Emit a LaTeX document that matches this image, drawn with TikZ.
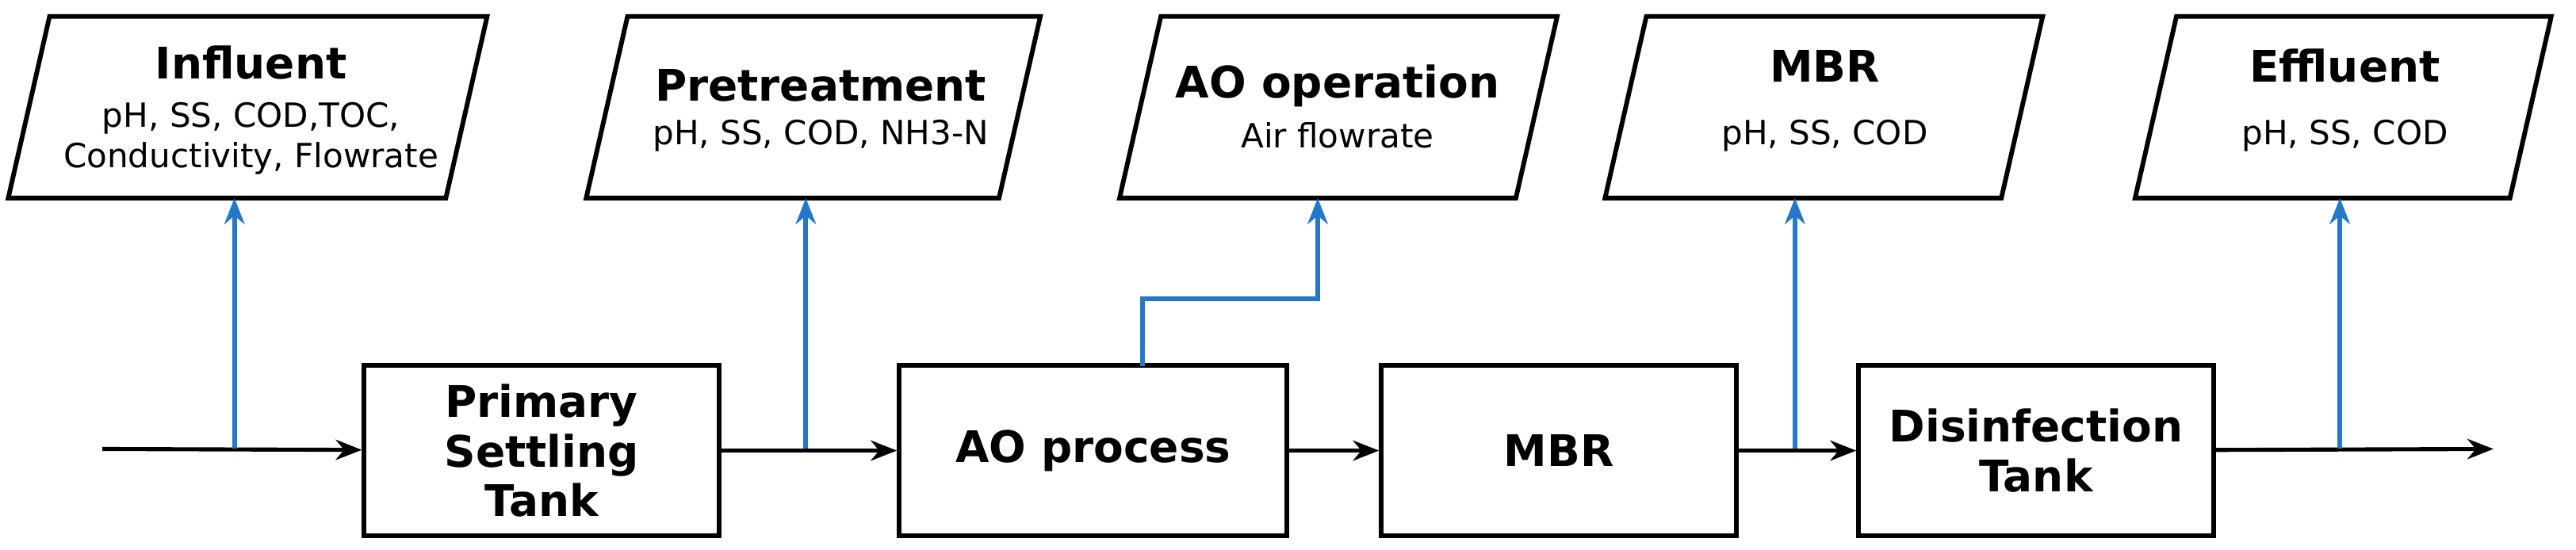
\documentclass[tikz,border=0pt]{standalone}
\usepackage{fontspec}
\setmainfont{DejaVu Sans}
\usetikzlibrary{arrows.meta}
\begin{document}
\begin{tikzpicture}[x=0.02cm,y=-0.02cm,
  box/.style={draw,line width=1.6pt,minimum width=4.3cm,minimum height=2.06cm,align=center,font=\fontsize{15}{17}\selectfont\bfseries},
  par/.style={draw,line width=1.6pt},
  ttl/.style={align=center,font=\fontsize{15}{17}\selectfont\bfseries},
  sub/.style={align=center,font=\fontsize{11.5}{14}\selectfont},
  flow/.style={line width=1.4pt,-{Stealth[length=9pt,width=7pt]}},
  sig/.style={line width=1.6pt,draw={rgb,255:red,36;green,120;blue,200},-{Stealth[length=9pt,width=7pt]}}]
\useasboundingbox (0,0) rectangle (1560,333);
% parallelograms
\newcommand{\pgram}[3]{\draw[par] (#2+25,10) -- (#3+25,10) -- (#3,120) -- (#2,120) -- cycle; \coordinate (#1) at ({(#2+#3)/2+12},120);}
\pgram{pInf}{5}{270}
\pgram{pPre}{355}{605}
\pgram{pAO}{678}{918}
\pgram{pMBR}{972}{1212}
\pgram{pEff}{1293}{1520}
\node[ttl] at (152,38) {Influent};
\node[sub] at (152,84) {pH, SS, COD,TOC,\\Conductivity, Flowrate};
\node[ttl] at (497,52) {Pretreatment};
\node[sub] at (497,82) {pH, SS, COD, NH3-N};
\node[ttl] at (810,52) {AO operation};
\node[sub] at (810,82) {Air flowrate};
\node[ttl] at (1105,40) {MBR};
\node[sub] at (1105,82) {pH, SS, COD};
\node[ttl] at (1420,40) {Effluent};
\node[sub] at (1420,82) {pH, SS, COD};
% boxes
\node[box] (pst) at (328,273) {Primary\\Settling\\Tank};
\node[box,minimum width=4.7cm] (ao) at (662,273) {AO process};
\node[box] (mbr) at (944,273) {MBR};
\node[box] (dis) at (1233,273) {Disinfection\\Tank};
\coordinate (in) at (62,272);
\coordinate (out) at (1510,272);
\draw[flow] (in) -- (pst);
\draw[flow] (pst) -- (ao);
\draw[flow] (ao) -- (mbr);
\draw[flow] (mbr) -- (dis);
\draw[flow] (dis) -- (out);
% signals
\draw[sig] (142,272) -- (142,120);
\draw[sig] (488,272) -- (488,120);
\draw[sig] (692,222) -- (692,181) -- (798,181) -- (798,120);
\draw[sig] (1087,272) -- (1087,120);
\draw[sig] (1417,272) -- (1417,120);
\end{tikzpicture}
\end{document}
